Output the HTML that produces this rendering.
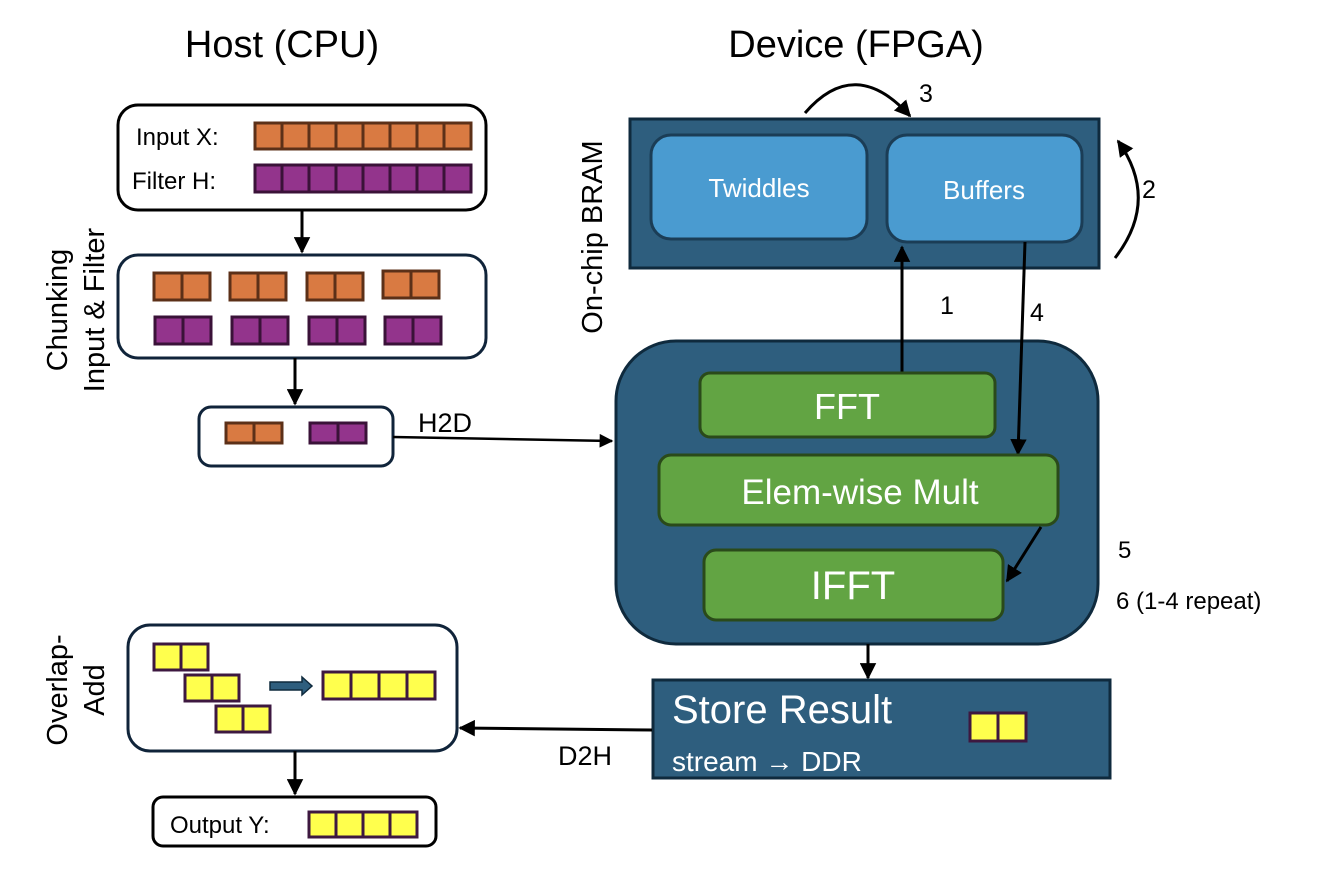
<!DOCTYPE html>
<html><head><meta charset="utf-8"><style>html,body{margin:0;padding:0;background:#fff}svg{display:block}text{font-family:"Liberation Sans",sans-serif}</style></head>
<body>
<svg width="1324" height="886" viewBox="0 0 1324 886" xmlns="http://www.w3.org/2000/svg">
<defs>
<marker id="ah" viewBox="0 0 10 10" refX="9" refY="5" markerWidth="5.5" markerHeight="5.5" orient="auto-start-reverse"><path d="M0,0 L10,5 L0,10 z" fill="#000"/></marker>
</defs>
<text x="282" y="57" font-size="38" text-anchor="middle">Host (CPU)</text>
<text x="856" y="57" font-size="38" text-anchor="middle">Device (FPGA)</text>

<!-- Box1 -->
<rect x="118" y="105" width="368" height="105" rx="20" fill="#fff" stroke="#000" stroke-width="3"/>
<text x="136" y="145" font-size="24">Input X:</text>
<text x="132" y="189" font-size="24">Filter H:</text>
<g stroke="#5c3018" stroke-width="3" fill="#d97a42">
<rect x="255" y="123" width="27" height="26"/><rect x="282" y="123" width="27" height="26"/><rect x="309" y="123" width="27" height="26"/><rect x="336" y="123" width="27" height="26"/><rect x="363" y="123" width="27" height="26"/><rect x="390" y="123" width="27" height="26"/><rect x="417" y="123" width="27" height="26"/><rect x="444" y="123" width="27" height="26"/>
</g>
<g stroke="#3a1238" stroke-width="3" fill="#93348c">
<rect x="255" y="165" width="27" height="27"/><rect x="282" y="165" width="27" height="27"/><rect x="309" y="165" width="27" height="27"/><rect x="336" y="165" width="27" height="27"/><rect x="363" y="165" width="27" height="27"/><rect x="390" y="165" width="27" height="27"/><rect x="417" y="165" width="27" height="27"/><rect x="444" y="165" width="27" height="27"/>
</g>
<line x1="302" y1="210" x2="302" y2="252" stroke="#000" stroke-width="3" marker-end="url(#ah)"/>

<!-- Box2 -->
<rect x="118" y="255" width="368" height="103" rx="20" fill="#fff" stroke="#10243a" stroke-width="3"/>
<g stroke="#5c3018" stroke-width="3" fill="#d97a42">
<rect x="154" y="273" width="28" height="27"/><rect x="182" y="273" width="28" height="27"/>
<rect x="230" y="273" width="28" height="27"/><rect x="258" y="273" width="28" height="27"/>
<rect x="307" y="273" width="28" height="27"/><rect x="335" y="273" width="28" height="27"/>
<rect x="383" y="271" width="28" height="27"/><rect x="411" y="271" width="28" height="27"/>
</g>
<g stroke="#3a1238" stroke-width="3" fill="#93348c">
<rect x="155" y="317" width="28" height="27"/><rect x="183" y="317" width="28" height="27"/>
<rect x="232" y="317" width="28" height="27"/><rect x="260" y="317" width="28" height="27"/>
<rect x="309" y="317" width="28" height="27"/><rect x="337" y="317" width="28" height="27"/>
<rect x="385" y="317" width="28" height="27"/><rect x="413" y="317" width="28" height="27"/>
</g>
<line x1="295" y1="358" x2="295" y2="404" stroke="#000" stroke-width="3" marker-end="url(#ah)"/>

<!-- Box3 -->
<rect x="199" y="407" width="194" height="59" rx="12" fill="#fff" stroke="#10243a" stroke-width="3"/>
<g stroke="#5c3018" stroke-width="3" fill="#d97a42"><rect x="226" y="423" width="28" height="20"/><rect x="254" y="423" width="28" height="20"/></g>
<g stroke="#3a1238" stroke-width="3" fill="#93348c"><rect x="310" y="423" width="28" height="20"/><rect x="338" y="423" width="28" height="20"/></g>

<text transform="translate(67,310) rotate(-90)" font-size="29" text-anchor="middle">Chunking</text>
<text transform="translate(104,310) rotate(-90)" font-size="29" text-anchor="middle">Input &amp; Filter</text>

<line x1="393" y1="437" x2="612" y2="441" stroke="#000" stroke-width="2.5" marker-end="url(#ah)"/>
<text x="418" y="432" font-size="27">H2D</text>

<!-- BRAM -->
<text transform="translate(602,237) rotate(-90)" font-size="29" text-anchor="middle">On-chip BRAM</text>
<rect x="630" y="119" width="469" height="149" fill="#2e5e7e" stroke="#0f2a3d" stroke-width="3"/>
<rect x="651" y="135" width="216" height="104" rx="20" fill="#4a9bd0" stroke="#1b3d56" stroke-width="3"/>
<rect x="887" y="135" width="195" height="107" rx="20" fill="#4a9bd0" stroke="#1b3d56" stroke-width="3"/>
<text x="759" y="197" font-size="26" fill="#fff" text-anchor="middle">Twiddles</text>
<text x="984" y="199" font-size="26" fill="#fff" text-anchor="middle">Buffers</text>

<path d="M805,113 Q855,55 910,116" fill="none" stroke="#000" stroke-width="3" marker-end="url(#ah)"/>
<text x="919" y="102" font-size="25">3</text>
<path d="M1115,258 Q1160,200 1118,141" fill="none" stroke="#000" stroke-width="3" marker-end="url(#ah)"/>
<text x="1142" y="198" font-size="25">2</text>
<text x="940" y="314" font-size="25">1</text>
<text x="1030" y="321" font-size="25">4</text>

<!-- Device box -->
<rect x="616" y="341" width="482" height="303" rx="60" fill="#2e5e7e" stroke="#0f2a3d" stroke-width="3"/>
<line x1="902" y1="372" x2="902" y2="247" stroke="#000" stroke-width="3" marker-end="url(#ah)"/>
<line x1="1025" y1="242" x2="1018" y2="454" stroke="#000" stroke-width="3" marker-end="url(#ah)"/>
<rect x="700" y="373" width="295" height="64" rx="10" fill="#62a443" stroke="#2a4a1a" stroke-width="3"/>
<text x="847" y="419" font-size="36" fill="#fff" text-anchor="middle">FFT</text>
<rect x="659" y="455" width="399" height="70" rx="12" fill="#62a443" stroke="#2a4a1a" stroke-width="3"/>
<text x="860" y="504" font-size="35" fill="#fff" text-anchor="middle">Elem-wise Mult</text>
<rect x="704" y="550" width="299" height="70" rx="12" fill="#62a443" stroke="#2a4a1a" stroke-width="3"/>
<text x="853" y="599" font-size="40" fill="#fff" text-anchor="middle">IFFT</text>
<line x1="1041" y1="527" x2="1007" y2="581" stroke="#000" stroke-width="3" marker-end="url(#ah)"/>
<text x="1118" y="558" font-size="24">5</text>
<text x="1116" y="609" font-size="24">6 (1-4 repeat)</text>

<line x1="868" y1="644" x2="868" y2="678" stroke="#000" stroke-width="3" marker-end="url(#ah)"/>

<!-- Store -->
<rect x="653" y="680" width="457" height="98" fill="#2e5e7e" stroke="#0f2a3d" stroke-width="3"/>
<text x="672" y="723" font-size="40" fill="#fff">Store Result</text>
<text x="672" y="771" font-size="28" fill="#fff">stream → DDR</text>
<g stroke="#3d1840" stroke-width="3" fill="#ffff4d"><rect x="970" y="713" width="28" height="28"/><rect x="998" y="713" width="28" height="28"/></g>

<line x1="652" y1="730" x2="460" y2="728" stroke="#000" stroke-width="3" marker-end="url(#ah)"/>
<text x="558" y="765" font-size="27">D2H</text>

<!-- Overlap -->
<text transform="translate(67,690) rotate(-90)" font-size="29" text-anchor="middle">Overlap-</text>
<text transform="translate(104,690) rotate(-90)" font-size="29" text-anchor="middle">Add</text>
<rect x="128" y="625" width="329" height="126" rx="22" fill="#fff" stroke="#10243a" stroke-width="3"/>
<g stroke="#3d1840" stroke-width="3" fill="#ffff4d">
<rect x="154" y="644" width="27" height="26"/><rect x="181" y="644" width="27" height="26"/>
<rect x="185" y="675" width="27" height="26"/><rect x="212" y="675" width="27" height="26"/>
<rect x="216" y="706" width="27" height="26"/><rect x="243" y="706" width="27" height="26"/>
<rect x="323" y="672" width="28" height="27"/><rect x="351" y="672" width="28" height="27"/><rect x="379" y="672" width="28" height="27"/><rect x="407" y="672" width="28" height="27"/>
</g>
<path d="M270,682 L302,682 L302,677 L312,686 L302,695 L302,690 L270,690 z" fill="#2e5e7e" stroke="#0f2a3d" stroke-width="1.5"/>
<line x1="295" y1="751" x2="295" y2="794" stroke="#000" stroke-width="3" marker-end="url(#ah)"/>

<rect x="153" y="797" width="283" height="49" rx="10" fill="#fff" stroke="#000" stroke-width="3"/>
<text x="170" y="833" font-size="24">Output Y:</text>
<g stroke="#3d1840" stroke-width="3" fill="#ffff4d"><rect x="309" y="812" width="27" height="25"/><rect x="336" y="812" width="27" height="25"/><rect x="363" y="812" width="27" height="25"/><rect x="390" y="812" width="27" height="25"/></g>
</svg>
</body></html>
